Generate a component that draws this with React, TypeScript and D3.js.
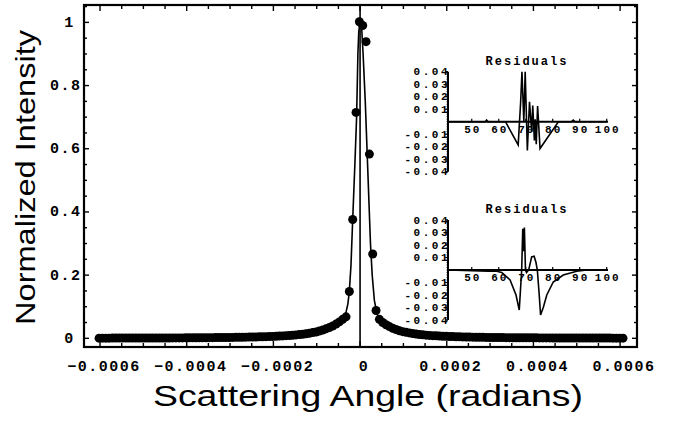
import React from "react";
import * as d3 from "d3";

// measured profile: scattering angle (microradians) and normalized intensity
const angles = [
  -602.2, -594.5, -586.8, -579.1, -571.4, -563.7, -556.0, -548.3, -540.6, -532.9,
  -525.2, -517.5, -509.8, -502.1, -494.4, -486.7, -479.0, -471.3, -463.6, -455.9,
  -448.2, -440.5, -432.8, -425.1, -417.4, -409.7, -402.0, -394.3, -386.6, -378.9,
  -371.2, -363.5, -355.8, -348.1, -340.4, -332.7, -325.0, -317.3, -309.6, -301.9,
  -294.2, -286.5, -278.8, -271.1, -263.4, -255.7, -248.0, -240.3, -232.6, -224.9,
  -217.2, -209.5, -201.8, -194.1, -186.4, -178.7, -171.0, -163.3, -155.6, -147.9,
  -140.2, -132.5, -124.8, -117.1, -109.4, -101.7, -94.0, -86.3, -78.6, -70.9,
  -63.2, -55.5, -47.8, -40.1, -32.4, -24.7, -17.0, -9.3, -1.6, 6.1,
  13.8, 21.5, 29.2, 36.9, 44.6, 52.3, 60.0, 67.7, 75.4, 83.1,
  90.8, 98.5, 106.2, 113.9, 121.6, 129.3, 137.0, 144.7, 152.4, 160.1,
  167.8, 175.5, 183.2, 190.9, 198.6, 206.3, 214.0, 221.7, 229.4, 237.1,
  244.8, 252.5, 260.2, 267.9, 275.6, 283.3, 291.0, 298.7, 306.4, 314.1,
  321.8, 329.5, 337.2, 344.9, 352.6, 360.3, 368.0, 375.7, 383.4, 391.1,
  398.8, 406.5, 414.2, 421.9, 429.6, 437.3, 445.0, 452.7, 460.4, 468.1,
  475.8, 483.5, 491.2, 498.9, 506.6, 514.3, 522.0, 529.7, 537.4, 545.1,
  552.8, 560.5, 568.2, 575.9, 583.6, 591.3, 599.0, 606.7,
];
const intensity = [
  0.0005, 0.0005, 0.0005, 0.0005, 0.0006, 0.0006, 0.0006, 0.0006, 0.0007, 0.0007,
  0.0007, 0.0008, 0.0008, 0.0008, 0.0009, 0.0009, 0.0009, 0.001, 0.001, 0.001,
  0.0011, 0.0011, 0.0012, 0.0012, 0.0013, 0.0013, 0.0014, 0.0015, 0.0015, 0.0016,
  0.0017, 0.0018, 0.0019, 0.002, 0.0021, 0.0022, 0.0023, 0.0024, 0.0026, 0.0027,
  0.0029, 0.003, 0.0032, 0.0034, 0.0036, 0.0038, 0.004, 0.0043, 0.0046, 0.0049,
  0.0053, 0.0057, 0.0061, 0.0066, 0.0071, 0.0077, 0.0083, 0.009, 0.0098, 0.0107,
  0.0118, 0.013, 0.0144, 0.016, 0.018, 0.02, 0.023, 0.026, 0.03, 0.034,
  0.039, 0.045, 0.052, 0.06, 0.068, 0.148, 0.376, 0.715, 1.002, 0.99,
  0.939, 0.583, 0.267, 0.088, 0.06, 0.05, 0.043, 0.037, 0.032, 0.028,
  0.024, 0.021, 0.019, 0.017, 0.015, 0.0135, 0.012, 0.011, 0.01, 0.0092,
  0.0085, 0.0078, 0.0072, 0.0067, 0.0062, 0.0058, 0.0054, 0.005, 0.0047, 0.0044,
  0.0041, 0.0039, 0.0036, 0.0034, 0.0032, 0.003, 0.0029, 0.0027, 0.0026, 0.0024,
  0.0023, 0.0022, 0.0021, 0.002, 0.0019, 0.0018, 0.0017, 0.0016, 0.0016, 0.0015,
  0.0014, 0.0014, 0.0013, 0.0013, 0.0012, 0.0012, 0.0011, 0.0011, 0.001, 0.001,
  0.001, 0.0009, 0.0009, 0.0009, 0.0008, 0.0008, 0.0008, 0.0007, 0.0007, 0.0007,
  0.0006, 0.0006, 0.0006, 0.0006, 0.0005, 0.0005, 0.0005, 0.0005,
];

// fitted curve
const fitAngles = [
  -606, -500, -400, -300, -250, -200, -170, -150, -130, -110, -95, -80, -70, -60,
  -50, -42, -36, -32, -28, -24.7, -21, -17, -12, -8, -5, -3, 0, 3, 7, 12, 16, 20,
  24, 28, 33, 38, 41, 45, 52, 60, 75, 90, 110, 130, 150, 200, 250, 300, 400, 500,
  606,
];
const fitIntensity = [
  0.0005, 0.0008, 0.0014, 0.0027, 0.0039, 0.0062, 0.0083, 0.0105, 0.0135, 0.018,
  0.0225, 0.029, 0.035, 0.041, 0.05, 0.058, 0.07, 0.085, 0.11, 0.15, 0.23, 0.376,
  0.55, 0.7, 0.9, 0.97, 1.0, 1.0, 0.9, 0.75, 0.6, 0.45, 0.3, 0.2, 0.12, 0.085,
  0.07, 0.06, 0.05, 0.043, 0.032, 0.024, 0.018, 0.0135, 0.0105, 0.0062, 0.0039,
  0.0027, 0.0014, 0.0008, 0.0005,
];

const xTicks = [-0.0006, -0.0004, -0.0002, 0, 0.0002, 0.0004, 0.0006];
const xTickLabels = ["\u22120.0006", "\u22120.0004", "\u22120.0002", "0", "0.0002", "0.0004", "0.0006"];
const yTicks = [0, 0.2, 0.4, 0.6, 0.8, 1];
const yTickLabels = ["0", "0.2", "0.4", "0.6", "0.8", "1"];

// residual insets
const resid1Index = [
  41.2, 55, 55.5, 56, 62.5, 67.2, 68.1, 68.6, 69.3, 69.8, 70.6, 71.4, 72.2, 72.6,
  73.2, 73.5, 73.9, 74.4, 75.3, 82.1, 87, 87.6, 88.2, 100,
];
const resid1Value = [
  0, 0, 0.0014, 0, 0, -0.0186, 0.015, 0.04, 0.0, 0.04, -0.023, 0.016, -0.008, 0.013,
  -0.015, 0.002, -0.018, 0.0125, -0.0215, 0, 0, 0.0012, 0, 0,
];
const resid2Index = [
  41.2, 56.1, 59.2, 61.1, 64.2, 66.4, 67.6, 68.5, 68.9, 69.2, 69.5, 69.9, 70.3,
  71.1, 72.2, 73.1, 73.8, 74.3, 75.0, 75.5, 76.5, 77.8, 80.2, 83.9, 88.9, 92.6, 100,
];
const resid2Value = [
  0, -0.001, -0.001, -0.002, -0.008, -0.02, -0.032, 0, 0.033, 0.015, 0.034, 0.0,
  -0.002, 0.0, 0.0105, 0.011, 0.006, 0, -0.02, -0.036, -0.03, -0.02, -0.0096,
  -0.004, -0.001, 0, 0,
];
const residXTicks = [50, 60, 70, 80, 90, 100];
const residYTicks = [0.04, 0.03, 0.02, 0.01, -0.01, -0.02, -0.03, -0.04];
const residYLabels = ["0.04", "0.03", "0.02", "0.01", "-0.01", "-0.02", "-0.03", "-0.04"];

const mono = "'Liberation Mono', 'DejaVu Sans Mono', monospace";
const sans = "'Liberation Sans', Arial, sans-serif";

const Inset = ({ zeroY, index, values }) => {
  const ix = d3.scaleLinear().domain([41.2, 100]).range([448, 606.7]);
  const iy = d3.scaleLinear().domain([-0.04, 0.04]).range([zeroY + 50, zeroY - 50]);
  const line = d3
    .line()
    .x((d) => ix(d[0]))
    .y((d) => iy(d[1]));
  const minor = d3.range(-0.04, 0.0401, 0.002);
  return (
    <g>
      <text x={527} y={zeroY - 57} fontFamily={mono} fontWeight="bold" fontSize={12}
        letterSpacing={2} textAnchor="middle">Residuals</text>
      {residXTicks.map((t) => (
        <g key={t}>
          <line x1={ix(t)} x2={ix(t)} y1={zeroY} y2={zeroY - 3} stroke="#000" strokeWidth={1.2} />
          <text x={ix(t) + 1} y={zeroY + 11} fontFamily={mono} fontWeight="bold" fontSize={11}
            letterSpacing={2} textAnchor="middle">{t}</text>
        </g>
      ))}
      {minor.map((t, i) => (
        <line key={i} x1={448} x2={446.5} y1={iy(t)} y2={iy(t)} stroke="#000" strokeWidth={0.8} />
      ))}
      {residYTicks.map((t, i) => (
        <g key={t}>
          <line x1={448} x2={445} y1={iy(t)} y2={iy(t)} stroke="#000" strokeWidth={1.2} />
          <text x={450} y={iy(t) + 3.5} fontFamily={mono} fontWeight="bold" fontSize={11}
            letterSpacing={2.5} textAnchor="end">{residYLabels[i]}</text>
        </g>
      ))}
      <line x1={448} x2={448} y1={iy(0.04)} y2={iy(-0.04)} stroke="#000" strokeWidth={2} />
      <line x1={448} x2={608} y1={zeroY} y2={zeroY} stroke="#000" strokeWidth={2} />
      <path d={line(index.map((d, i) => [d, values[i]]))} fill="none" stroke="#000"
        strokeWidth={1.6} strokeLinejoin="miter" />
    </g>
  );
};

const App = () => {
  const x = d3.scaleLinear().domain([-0.000637, 0.000639]).range([84, 637]);
  const y = d3.scaleLinear().domain([-0.0275, 1.055]).range([347, 5]);
  const fitLine = d3
    .line()
    .x((d) => x(d[0] * 1e-6))
    .y((d) => y(d[1]));
  const fitPts = fitAngles.map((a, i) => [a, fitIntensity[i]]);
  const xMinor = d3.range(-0.0006, 0.00061, 0.00005);
  const yMinor = d3.range(0, 1.051, 0.05);

  return (
    <svg width={681} height={430} style={{ position: "absolute", left: 0, top: 0, background: "#fff" }}>
      {/* zero axis */}
      <line x1={x(0)} x2={x(0)} y1={5} y2={347} stroke="#000" strokeWidth={1.6} />
      <path d={fitLine(fitPts)} fill="none" stroke="#000" strokeWidth={1.6} />
      {angles.map((a, i) => (
        <circle key={i} cx={x(a * 1e-6)} cy={y(intensity[i])} r={4.5} fill="#000" />
      ))}

      {/* frame ticks */}
      {xMinor.map((t, i) => {
        const major = i % 4 === 0;
        const len = major ? 6 : 4;
        return (
          <g key={"x" + i}>
            <line x1={x(t)} x2={x(t)} y1={347} y2={347 - len} stroke="#000" strokeWidth={1.4} />
            <line x1={x(t)} x2={x(t)} y1={5} y2={5 + len} stroke="#000" strokeWidth={1.4} />
          </g>
        );
      })}
      {yMinor.map((t, i) => {
        const major = i % 4 === 0;
        const len = major ? 5 : 3;
        return (
          <g key={"y" + i}>
            <line x1={84} x2={84 + len} y1={y(t)} y2={y(t)} stroke="#000" strokeWidth={1.4} />
            <line x1={637} x2={637 - len} y1={y(t)} y2={y(t)} stroke="#000" strokeWidth={1.4} />
          </g>
        );
      })}
      <rect x={84} y={5} width={553} height={342} fill="none" stroke="#000" strokeWidth={2.2} />

      {xTicks.map((t, i) => (
        <text key={t} x={x(t) + 4} y={370.5} fontFamily={mono} fontWeight="bold" fontSize={15}
          letterSpacing={1.5} textAnchor="middle">{xTickLabels[i]}</text>
      ))}
      {yTicks.map((t, i) => (
        <text key={t} x={yTickLabels[i].includes(".") ? 81.5 : 74.8} y={y(t) + 4.5}
          fontFamily={mono} fontWeight="bold" fontSize={15} letterSpacing={1.5}
          textAnchor="end">{yTickLabels[i]}</text>
      ))}

      <text x={368} y={406} fontFamily={sans} fontSize={29} textAnchor="middle"
        textLength={430} lengthAdjust="spacingAndGlyphs">Scattering Angle (radians)</text>
      <text transform="translate(35,177.5) rotate(-90)" fontFamily={sans} fontSize={28}
        textAnchor="middle" textLength={295} lengthAdjust="spacingAndGlyphs">Normalized Intensity</text>

      <Inset zeroY={121.7} index={resid1Index} values={resid1Value} />
      <Inset zeroY={270} index={resid2Index} values={resid2Value} />
    </svg>
  );
};

export default App;
